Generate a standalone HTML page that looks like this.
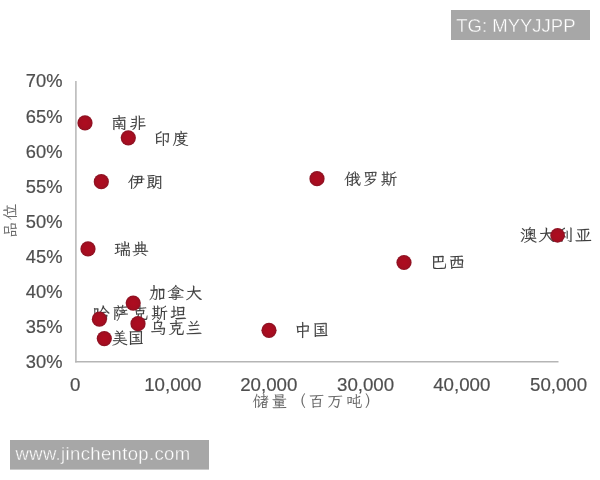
<!DOCTYPE html>
<html><head><meta charset="utf-8">
<style>
html,body{margin:0;padding:0;background:#fff;}
body{width:600px;height:480px;position:relative;overflow:hidden;font-family:"Liberation Sans","Noto Sans CJK SC",sans-serif;}
svg{position:absolute;left:0;top:0;filter:blur(0.35px);}
.yl{font-family:"Liberation Sans",sans-serif;font-size:18.3px;fill:#4e4e4e;stroke:#4e4e4e;stroke-width:0.2px;text-anchor:end;}
.xl{font-family:"Liberation Sans",sans-serif;font-size:18.7px;fill:#4e4e4e;stroke:#4e4e4e;stroke-width:0.2px;text-anchor:middle;}
.cn{font-family:"Liberation Serif","LXGW WenKai TC","Noto Serif CJK SC",serif;font-size:17px;fill:#3d3d3d;letter-spacing:1.3px;stroke:#3d3d3d;stroke-width:0.1px;}
.ax{font-family:"Liberation Serif","LXGW WenKai TC","Noto Serif CJK SC",serif;font-size:16.5px;fill:#686868;letter-spacing:2.2px;}
.wm{font-family:"Liberation Sans",sans-serif;font-size:18.5px;fill:#fff;stroke:#a7a7a7;stroke-width:0.35px;}
</style></head><body>
<svg width="600" height="480" viewBox="0 0 600 480">
<g stroke="#b5b5b5" stroke-width="1.5" fill="none">
<line x1="75.9" y1="81" x2="75.9" y2="362.4"/>
<line x1="75.2" y1="361.7" x2="558.5" y2="361.7"/>
</g>
<g class="yl">
<text x="62.4" y="87.4">70%</text>
<text x="62.4" y="122.5">65%</text>
<text x="62.4" y="157.6">60%</text>
<text x="62.4" y="192.7">55%</text>
<text x="62.4" y="227.8">50%</text>
<text x="62.4" y="262.9">45%</text>
<text x="62.4" y="298.0">40%</text>
<text x="62.4" y="333.1">35%</text>
<text x="62.4" y="368.2">30%</text>
</g>
<g class="xl">
<text x="75.2" y="391.4">0</text>
<text x="172.8" y="391.4">10,000</text>
<text x="268.8" y="391.4">20,000</text>
<text x="365.6" y="391.4">30,000</text>
<text x="461.8" y="391.4">40,000</text>
<text x="558.6" y="391.4">50,000</text>
</g>
<g class="cn">
<text x="110.8" y="129">南非</text>
<text x="154" y="144.5">印度</text>
<text x="128" y="187.5">伊朗</text>
<text x="344" y="185">俄罗斯</text>
<text x="520" y="241">澳大利亚</text>
<text x="430" y="268">巴西</text>
<text x="114" y="254.5">瑞典</text>
<text x="149" y="298.5">加拿大</text>
<text x="93" y="319.3" style="letter-spacing:2.3px">哈萨克斯坦</text>
<text x="150" y="334.3" style="letter-spacing:0.7px">乌克兰</text>
<text x="111.3" y="344" style="letter-spacing:-0.6px">美国</text>
<text x="294.3" y="336">中国</text>
</g>
<g class="ax">
<text x="252.3" y="406.8">储量（百万吨）</text>
<text transform="translate(16,238) rotate(-90)" x="0" y="0" style="letter-spacing:1.6px">品位</text>
</g>
<defs><radialGradient id="dg" cx="50%" cy="50%" r="50%"><stop offset="0" stop-color="#ae0c20"/><stop offset="0.7" stop-color="#a60d20"/><stop offset="1" stop-color="#8a1323"/></radialGradient></defs>
<g fill="url(#dg)">
<circle cx="85" cy="122.9" r="7.6"/>
<circle cx="128.3" cy="137.8" r="7.6"/>
<circle cx="101.3" cy="181.7" r="7.6"/>
<circle cx="317" cy="178.7" r="7.6"/>
<circle cx="557.6" cy="235.4" r="7.3"/>
<circle cx="404" cy="262.5" r="7.6"/>
<circle cx="88" cy="248.9" r="7.6"/>
<circle cx="133.2" cy="303.1" r="7.6"/>
<circle cx="99.4" cy="319.2" r="7.6"/>
<circle cx="138" cy="323.7" r="7.6"/>
<circle cx="104.3" cy="338.6" r="7.6"/>
<circle cx="269" cy="330.3" r="7.6"/>
</g>
<rect x="451" y="10" width="139" height="30" fill="#a7a7a7"/>
<text class="wm" x="456.3" y="32">TG: MYYJJPP</text>
<rect x="10" y="440" width="199" height="29.6" fill="#a7a7a7"/>
<text class="wm" x="15.5" y="459.5" style="letter-spacing:0.35px">www.jinchentop.com</text>
</svg>
</body></html>
